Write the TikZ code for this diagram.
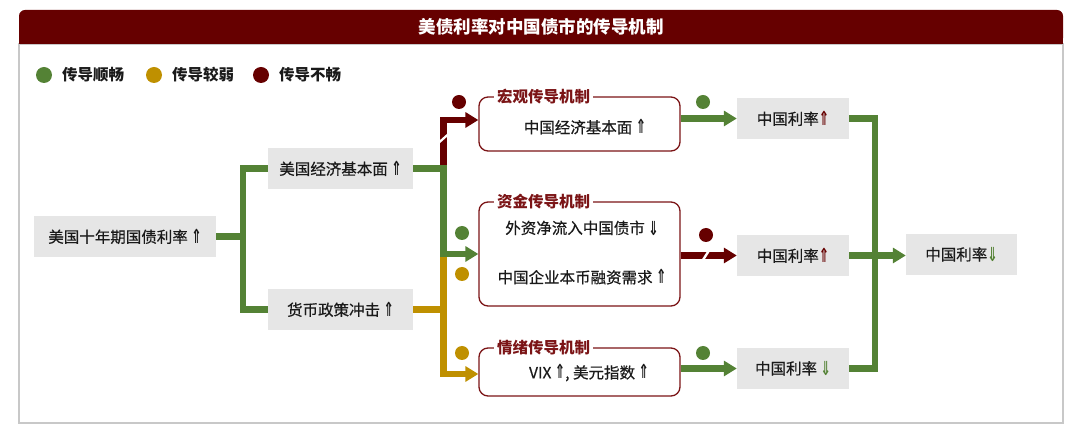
\documentclass[tikz,border=0pt]{standalone}
\usepackage{fontspec}
\usepackage{graphicx}
\setmainfont{Noto Sans CJK SC}
\newfontfamily\medfont{Noto Sans CJK SC}[FakeBold=0.5]
\newfontfamily\arrowfont{DejaVu Sans}
\usetikzlibrary{arrows.meta}
\definecolor{dred}{HTML}{660000}
\definecolor{gr}{HTML}{548235}
\definecolor{yl}{HTML}{BF9000}
\definecolor{boxgray}{HTML}{E6E6E6}
\definecolor{mred}{HTML}{7B1416}
\definecolor{framegray}{HTML}{C8C8C8}
\definecolor{txt}{HTML}{1A1A1A}
\newcommand{\myup}{\raisebox{-0.5pt}{\scalebox{0.8}[1.25]{\arrowfont\bfseries\fontsize{15.5}{16}\selectfont ⇑}}}
\newcommand{\mydn}{\raisebox{-1.5pt}{\scalebox{0.8}[1.25]{\arrowfont\bfseries\fontsize{15.5}{16}\selectfont ⇓}}}
\tikzset{
  gbox/.style={fill=boxgray, minimum height=41pt, inner sep=0pt, text=txt,
    font=\medfont\fontsize{15.5}{18}\selectfont},
  mbox/.style={draw=mred, line width=1.3pt, rounded corners=9pt, fill=white,
    inner sep=0pt},
  mlabel/.style={fill=white, text=mred, anchor=west, inner xsep=3pt, inner ysep=1pt,
    font=\bfseries\fontsize{15.5}{18}\selectfont},
  mtext/.style={text=txt, inner sep=0pt, font=\medfont\fontsize{15.5}{18}\selectfont},
  legtext/.style={text=txt, anchor=west, inner sep=0pt,
    font=\bfseries\fontsize{15.5}{18}\selectfont},
  gline/.style={draw=gr, line width=6.5pt},
  yline/.style={draw=yl, line width=6.5pt},
  rline/.style={draw=dred, line width=6.5pt},
  tip/.style={-{Triangle[length=13pt,width=15pt]}},
  dot/.style={circle, inner sep=0pt, minimum size=14pt},
  ldot/.style={circle, inner sep=0pt, minimum size=16pt},
}
\begin{document}
\begin{tikzpicture}[x=1pt,y=-1pt]
\useasboundingbox (0,0) rectangle (1080,435);
% frame and title
\draw[framegray, line width=1.2pt] (19,44) rectangle (1063,423);
\fill[dred, rounded corners=6pt] (19,10) rectangle (1063,44);
\fill[dred] (19,30) rectangle (1063,44);
\node[text=white, font=\bfseries\fontsize{17.5}{20}\selectfont] (title) at (541,27) {美债利率对中国债市的传导机制};
% legend
\node[ldot, fill=gr] (lg1) at (44,75) {};
\node[legtext] (lt1) at (62,75) {传导顺畅};
\node[ldot, fill=yl] (lg2) at (154,75) {};
\node[legtext] (lt2) at (172,75) {传导较弱};
\node[ldot, fill=dred] (lg3) at (261,75) {};
\node[legtext] (lt3) at (279,75) {传导不畅};
% gray nodes
\node[gbox, minimum width=182pt] (us10) at (125,236.5) {美国十年期国债利率 \myup};
\node[gbox, minimum width=145pt] (usecon) at (340.5,168.5) {美国经济基本面 \myup};
\node[gbox, minimum width=145pt] (mp) at (340.5,309.5) {货币政策冲击 \myup};
\node[gbox, minimum width=112pt] (r1) at (793,118.5) {中国利率{\color{dred}\myup}};
\node[gbox, minimum width=112pt] (r2) at (793,255.5) {中国利率{\color{dred}\myup}};
\node[gbox, minimum width=112pt] (r3) at (793,368.5) {中国利率 {\color{gr}\mydn}};
\node[gbox, minimum width=111pt] (fin) at (961.5,254.5) {中国利率{\color{gr}\mydn}};
% mechanism boxes
\node[mbox, minimum width=201pt, minimum height=54pt] (hg) at (579.5,124) {};
\node[mbox, minimum width=201pt, minimum height=104pt] (zj) at (579.5,254) {};
\node[mbox, minimum width=201pt, minimum height=48pt] (qx) at (579.5,372) {};
\node[mlabel] (hgl) at (494,97) {宏观传导机制};
\node[mlabel] (zjl) at (494,202) {资金传导机制};
\node[mlabel] (qxl) at (494,348) {情绪传导机制};
\node[mtext] (hgt) at (585,127) {中国经济基本面 \myup};
\node[mtext] (zjt1) at (582,228) {外资净流入中国债市 \mydn};
\node[mtext] (zjt2) at (582,277) {中国企业本币融资需求 \myup};
\node[mtext] (qxt) at (589,373) {VIX \myup, 美元指数 \myup};
% junction coordinates
\coordinate (jL) at (243,236.5);
\coordinate (jA) at (443.5,168.5);
\coordinate (jB) at (443.5,309.5);
\coordinate (rj) at (443.5,120);
\coordinate (yb) at (443.5,374);
\coordinate (tr) at (875,0);
% connectors
\draw[rline, tip] (jA) -- (rj) -- (rj -| hg.west);
\draw[white, line width=2.2pt] (439,142.5) -- (448,134.5);
\draw[yline] (mp.east) -- (jB);
\draw[yline, tip] (443.5,253) -- (yb) -- (yb -| qx.west);
\draw[gline] (us10.east) -- (jL);
\draw[gline] (usecon.west) -- (usecon.west -| jL) -- (mp.west -| jL) -- (mp.west);
\draw[gline, tip] (usecon.east) -- (jA) -- (jA |- zj.west) -- (zj.west);
\draw[gline, tip] (hg.east |- r1.west) -- (r1.west);
\draw[rline, tip] (zj.east |- r2.west) -- (r2.west);
\draw[white, line width=2.4pt] (702,261.5) -- (709,250.5);
\draw[gline, tip] (qx.east |- r3.west) -- (r3.west);
\draw[gline] (r1.east) -- (r1.east -| tr) -- (r3.east -| tr) -- (r3.east);
\draw[gline, tip] (r2.east) -- (r2.east -| fin.west);
% status dots
\node[dot, fill=dred] (d1) at (459,102) {};
\node[dot, fill=gr] (d2) at (703,102) {};
\node[dot, fill=gr] (d3) at (462,233) {};
\node[dot, fill=yl] (d4) at (462,274) {};
\node[dot, fill=dred] (d5) at (706,235) {};
\node[dot, fill=yl] (d6) at (462,353) {};
\node[dot, fill=gr] (d7) at (703,353) {};
\end{tikzpicture}
\end{document}
